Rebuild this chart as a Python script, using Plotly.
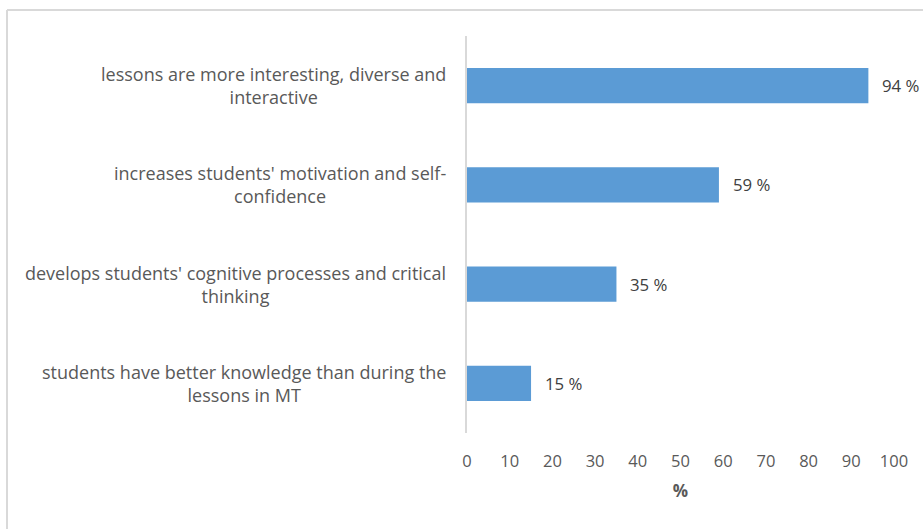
import plotly.graph_objects as go

categories = [
    "lessons are more interesting, diverse and<br>interactive",
    "increases students' motivation and self-<br>confidence",
    "develops students' cognitive processes and critical<br>thinking",
    "students have better knowledge than during the<br>lessons in MT",
]
values = [94, 59, 35, 15]
x_ticks = [0, 10, 20, 30, 40, 50, 60, 70, 80, 90, 100]

FONT = "'Open Sans', Lato, sans-serif"
W, H = 923, 529
L, R, T, B = 467, 29, 36, 96

fig = go.Figure(
    go.Bar(
        x=values,
        y=categories,
        orientation="h",
        width=0.355,
        marker=dict(color="#5B9BD5", line=dict(width=0)),
        hoverinfo="skip",
    )
)

annotations = []
# category labels, centred per line, sitting left of the axis
for cat in categories:
    annotations.append(dict(
        x=0, xref="paper", y=cat, yref="y",
        text=cat, showarrow=False,
        xanchor="right", yanchor="middle", align="center",
        xshift=-19,
        font=dict(family=FONT, size=18, color="#595959"),
    ))
# value labels at the end of each bar
for cat, v in zip(categories, values):
    annotations.append(dict(
        x=v, xref="x", y=cat, yref="y",
        text=f"{v} %", showarrow=False,
        xanchor="left", yanchor="middle",
        xshift=12,
        font=dict(family=FONT, size=16.8, color="#404040"),
    ))

pw = W - L - R
ph = H - T - B
px = lambda p: (p - L) / pw
py = lambda p: 1 - (p - T) / ph

shapes = [
    # outer frame (top and left edges)
    dict(type="line", xref="paper", yref="paper",
         x0=px(7), x1=px(960), y0=py(10), y1=py(10),
         line=dict(color="#D9D9D9", width=2)),
    dict(type="line", xref="paper", yref="paper",
         x0=px(7), x1=px(7), y0=py(10), y1=py(560),
         line=dict(color="#D9D9D9", width=2)),
]

fig.update_layout(
    width=W, height=H,
    margin=dict(l=L, r=R, t=T, b=B),
    paper_bgcolor="white", plot_bgcolor="white",
    showlegend=False,
    annotations=annotations,
    shapes=shapes,
    font=dict(family=FONT, size=16.5, color="#595959"),
    xaxis=dict(
        range=[0, 100], tickvals=x_ticks, ticktext=[str(t) for t in x_ticks],
        showgrid=False, zeroline=False, showline=False, ticks="",
        ticklabelstandoff=16,
        tickfont=dict(family=FONT, size=16.5, color="#595959"),
        title=dict(text="<b>%</b>", standoff=14,
                   font=dict(family=FONT, size=17, color="#595959")),
        fixedrange=True,
    ),
    yaxis=dict(
        autorange="reversed", showticklabels=False, showgrid=False,
        zeroline=False, showline=True, linecolor="#D9D9D9", linewidth=1.5,
        ticks="", fixedrange=True,
    ),
)

fig.write_html("out.html")
